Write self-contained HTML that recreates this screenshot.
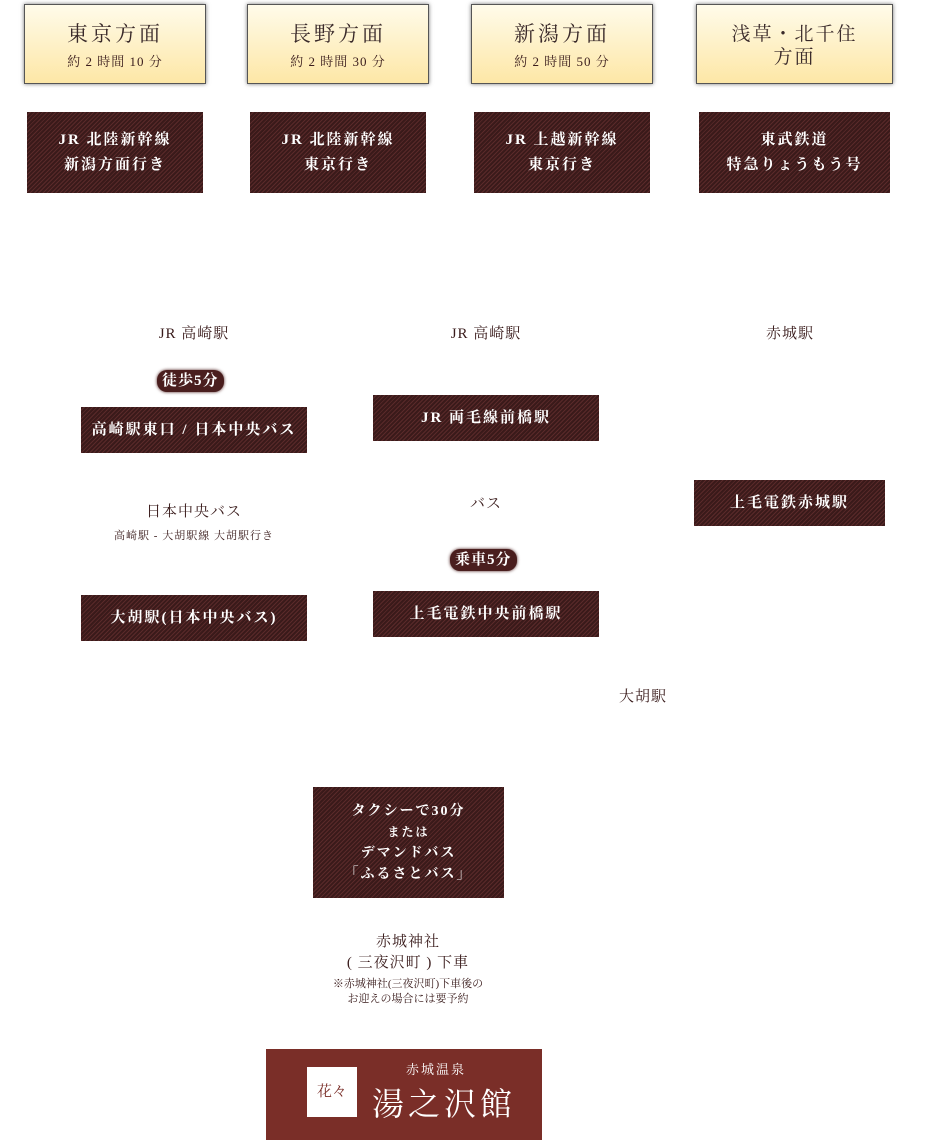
<!DOCTYPE html>
<html><head><meta charset="utf-8"><style>
body{margin:0;width:940px;height:1140px;background:#fff;position:relative;overflow:hidden;font-family:"Liberation Serif","Noto Serif CJK SC",serif;color:#3a1c1c}
.a{position:absolute}
.head{position:absolute;top:4px;height:80px;background:linear-gradient(#fffbea,#fde7a6);border:1px solid #555;box-shadow:0 0 4px #777;text-align:center;box-sizing:border-box}
.head b{display:block;font-weight:normal;font-size:21px;letter-spacing:3px;margin-top:13px;color:#3a2a2a}
.head i{display:block;font-style:normal;font-size:13px;letter-spacing:1px;margin-top:3px}
.box{position:absolute;background:repeating-linear-gradient(135deg,#3a1a1a 0 2px,#5a2a2a 2px 3px);color:#fff;text-align:center;display:flex;align-items:center;justify-content:center;font-size:15px;letter-spacing:2px;line-height:25px;font-weight:bold}
.t{position:absolute;text-align:center;font-size:15px;letter-spacing:1px}
.badge{position:absolute;background:#4a1e1e;color:#fff;border-radius:10px;font-size:15px;font-weight:bold;padding:0 5px;height:22px;line-height:22px;letter-spacing:1px;box-shadow:0 0 3px #4a1e1e}
</style></head><body>
<div class="head" style="left:24px;width:182px"><b>東京方面</b><i>約 2 時間 10 分</i></div>
<div class="head" style="left:247px;width:182px"><b>長野方面</b><i>約 2 時間 30 分</i></div>
<div class="head" style="left:471px;width:182px"><b>新潟方面</b><i>約 2 時間 50 分</i></div>
<div class="head" style="left:696px;width:197px"><b style="font-size:19px;line-height:23px;margin-top:18px;letter-spacing:2px">浅草・北千住<br>方面</b></div>

<div class="box" style="left:27px;top:112px;width:176px;height:81px">JR 北陸新幹線<br>新潟方面行き</div>
<div class="box" style="left:250px;top:112px;width:176px;height:81px">JR 北陸新幹線<br>東京行き</div>
<div class="box" style="left:474px;top:112px;width:176px;height:81px">JR 上越新幹線<br>東京行き</div>
<div class="box" style="left:699px;top:112px;width:191px;height:81px">東武鉄道<br>特急りょうもう号</div>

<div class="t" style="left:94px;top:322px;width:200px">JR 高崎駅</div>
<div class="t" style="left:386px;top:322px;width:200px">JR 高崎駅</div>
<div class="t" style="left:690px;top:322px;width:200px">赤城駅</div>

<div class="badge" style="left:157px;top:370px">徒歩5分</div>
<div class="box" style="left:81px;top:407px;width:226px;height:46px">高崎駅東口 / 日本中央バス</div>
<div class="box" style="left:373px;top:395px;width:226px;height:46px">JR 両毛線前橋駅</div>
<div class="box" style="left:694px;top:480px;width:191px;height:46px">上毛電鉄赤城駅</div>

<div class="t" style="left:94px;top:500px;width:200px">日本中央バス</div>
<div class="t" style="left:74px;top:527px;width:240px;font-size:11px">高崎駅 - 大胡駅線 大胡駅行き</div>
<div class="t" style="left:386px;top:492px;width:200px">バス</div>
<div class="badge" style="left:450px;top:549px">乗車5分</div>
<div class="box" style="left:81px;top:595px;width:226px;height:46px">大胡駅(日本中央バス)</div>
<div class="box" style="left:373px;top:591px;width:226px;height:46px">上毛電鉄中央前橋駅</div>
<div class="t" style="left:543px;top:685px;width:200px">大胡駅</div>

<div class="box" style="left:313px;top:787px;width:191px;height:111px;font-size:14px;line-height:21px;flex-direction:column"><span>タクシーで30分</span><span style="font-size:12px">または</span><span>デマンドバス</span><span>「ふるさとバス」</span></div>

<div class="t" style="left:308px;top:932px;width:200px;line-height:21px">赤城神社<br>( 三夜沢町 ) 下車</div>
<div class="t" style="left:288px;top:977px;width:240px;font-size:11px;line-height:15px;letter-spacing:0">※赤城神社(三夜沢町)下車後の<br>お迎えの場合には要予約</div>

<div class="a" style="left:266px;top:1049px;width:276px;height:91px;background:#7a2e28">
<div class="a" style="left:41px;top:18px;width:50px;height:50px;background:#fff;color:#7a2e28;font-size:15px;text-align:center;line-height:50px">花々</div>
<div class="a" style="left:140px;top:10px;color:#fff;font-size:13px;letter-spacing:2px">赤城温泉</div>
<div class="a" style="left:106px;top:30px;color:#fff;font-size:32px;letter-spacing:4px">湯之沢館</div>
</div>
</body></html>
